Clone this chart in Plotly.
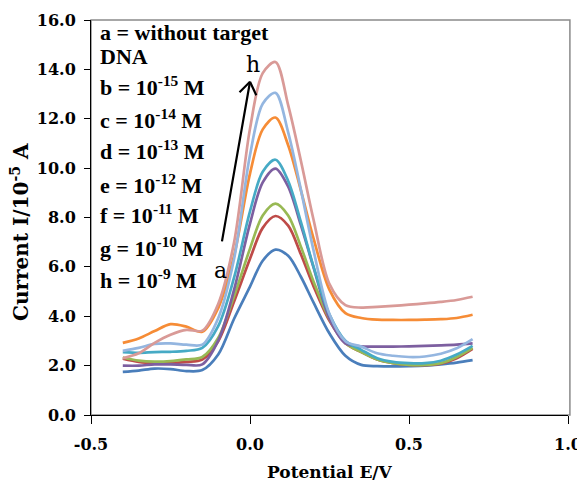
import plotly.graph_objects as go

# ---- data ----
potential = [-0.40, -0.35, -0.30, -0.25, -0.20, -0.15, -0.10, -0.05, 0.00, 0.04, 0.08, 0.12,
             0.16, 0.20, 0.25, 0.30, 0.35, 0.40, 0.45, 0.50, 0.55, 0.60, 0.65, 0.70]

curve_a = [1.75, 1.80, 1.88, 1.86, 1.78, 1.82, 2.45, 3.90, 5.20, 6.25, 6.70, 6.45,
           5.60, 4.55, 3.30, 2.40, 2.03, 1.98, 1.97, 1.98, 2.00, 2.05, 2.12, 2.22]
curve_b = [2.28, 2.15, 2.10, 2.10, 2.15, 2.25, 2.99, 4.60, 6.33, 7.58, 8.06, 7.67,
           6.51, 5.21, 3.81, 2.91, 2.55, 2.25, 2.10, 2.03, 2.02, 2.08, 2.30, 2.68]
curve_c = [2.33, 2.20, 2.16, 2.18, 2.25, 2.35, 3.12, 4.82, 6.74, 8.08, 8.56, 8.08,
           6.82, 5.40, 3.88, 2.92, 2.55, 2.25, 2.10, 2.03, 2.03, 2.10, 2.35, 2.72]
curve_d = [2.00, 2.00, 2.05, 2.05, 2.03, 2.05, 3.01, 5.08, 7.75, 9.42, 9.98, 9.25,
           7.69, 5.97, 3.90, 2.90, 2.78, 2.77, 2.77, 2.78, 2.80, 2.82, 2.85, 2.90]
curve_e = [2.55, 2.52, 2.55, 2.56, 2.60, 2.72, 3.60, 5.57, 8.25, 9.85, 10.34, 9.48,
           7.82, 6.00, 4.07, 3.01, 2.64, 2.30, 2.15, 2.10, 2.10, 2.20, 2.45, 2.80]
curve_f = [2.92, 3.10, 3.40, 3.68, 3.58, 3.37, 4.33, 6.46, 9.78, 11.57, 12.05, 10.93,
           9.10, 7.14, 5.07, 4.13, 3.93, 3.86, 3.85, 3.85, 3.86, 3.88, 3.93, 4.06]
curve_g = [2.60, 2.72, 2.88, 2.90, 2.85, 2.85, 3.92, 6.33, 10.53, 12.61, 13.05, 11.45,
           9.13, 6.66, 4.08, 2.99, 2.77, 2.50, 2.40, 2.35, 2.37, 2.48, 2.70, 3.07]
curve_h = [2.30, 2.50, 2.92, 3.25, 3.45, 3.42, 4.50, 7.00, 11.60, 13.85, 14.30, 12.55,
           10.30, 7.90, 5.30, 4.45, 4.35, 4.38, 4.42, 4.47, 4.52, 4.58, 4.66, 4.79]

series_names = ["a", "b", "c", "d", "e", "f", "g", "h"]
series_values = [curve_a, curve_b, curve_c, curve_d, curve_e, curve_f, curve_g, curve_h]
series_colors = ["#4a7ebb", "#be4b48", "#98b954", "#7d5fa0", "#46aac5",
                 "#f68c36", "#94b6e0", "#d99a97"]

legend_lines = [
    "a = without target",
    "DNA",
    "b = 10<sup>-15</sup> M",
    "c = 10<sup>-14</sup> M",
    "d = 10<sup>-13</sup> M",
    "e = 10<sup>-12</sup> M",
    "f = 10<sup>-11</sup> M",
    "g = 10<sup>-10</sup> M",
    "h = 10<sup>-9</sup> M",
]

x_tick_vals = [-0.5, 0.0, 0.5, 1.0]
x_tick_text = ["-0.5", "0.0", "0.5", "1.0"]
y_tick_vals = [0, 2, 4, 6, 8, 10, 12, 14, 16]
y_tick_text = ["0.0", "2.0", "4.0", "6.0", "8.0", "10.0", "12.0", "14.0", "16.0"]

# ---- figure ----
fig = go.Figure()
for name, vals, col in zip(series_names, series_values, series_colors):
    fig.add_trace(go.Scatter(
        x=potential, y=vals, mode="lines", name=name,
        line=dict(color=col, width=2.7, shape="spline", smoothing=0.9),
        hoverinfo="skip"))

tick_font = dict(family="DejaVu Serif", size=16, color="#000000", weight="bold")

# the page body has an 8px margin, so the figure is sized/offset to compensate
fig.update_layout(
    width=577, height=480,
    margin=dict(l=83, r=17, t=12, b=73),
    plot_bgcolor="white", paper_bgcolor="white",
    showlegend=False,
    xaxis=dict(range=[-0.5, 1.0], tickvals=x_tick_vals, ticktext=x_tick_text,
               ticks="outside", ticklen=8, tickcolor="#000000", tickwidth=1,
               ticklabelstandoff=7,
               showline=True, linecolor="#000000", linewidth=1, automargin=False,
               showgrid=False, zeroline=False, tickfont=tick_font),
    yaxis=dict(range=[0, 16], tickvals=y_tick_vals, ticktext=y_tick_text,
               ticks="outside", ticklen=6, tickcolor="#000000", tickwidth=1,
               ticklabelstandoff=5,
               showline=True, linecolor="#000000", linewidth=1, automargin=False,
               showgrid=False, zeroline=False, tickfont=tick_font),
    shapes=[dict(type="rect", xref="paper", yref="paper", x0=0, x1=1.004, y0=0, y1=1.0,
                 line=dict(color="#8a8a8a", width=1.5), layer="below")],
)

# axis titles
fig.add_annotation(text="Current I/10<sup>-5</sup> A", textangle=-90,
                   xref="paper", yref="paper", x=-0.149, y=0.463,
                   xanchor="center", yanchor="middle", showarrow=False,
                   font=dict(family="DejaVu Serif", size=20, color="#000000", weight="bold"))
fig.add_annotation(text="Potential E/V",
                   xref="paper", yref="paper", x=0.5, y=-0.144,
                   xanchor="center", yanchor="middle", showarrow=False,
                   font=dict(family="DejaVu Serif", size=17, color="#000000", weight="bold"))

# legend-like text block
legend_y = [0.969, 0.908, 0.832, 0.750, 0.670, 0.586, 0.508, 0.426, 0.345]
for txt, yy in zip(legend_lines, legend_y):
    fig.add_annotation(text=txt, xref="paper", yref="paper", x=0.015, y=yy,
                       xanchor="left", yanchor="middle", showarrow=False,
                       font=dict(family="Liberation Serif", size=22, color="#000000",
                                 weight="bold"))

# arrow from a to h (shaft + open chevron head)
fig.add_annotation(x=0.0, y=13.5, ax=-0.089, ay=6.97, xref="x", yref="y",
                   axref="x", ayref="y", text="", showarrow=True,
                   arrowhead=0, arrowwidth=2.2, arrowcolor="#000000")
fig.add_annotation(x=0.0, y=13.5, ax=-12, ay=12, xref="x", yref="y",
                   text="", showarrow=True, arrowhead=0, arrowwidth=2.2,
                   arrowcolor="#000000")
fig.add_annotation(x=0.0, y=13.5, ax=7, ay=15, xref="x", yref="y",
                   text="", showarrow=True, arrowhead=0, arrowwidth=2.2,
                   arrowcolor="#000000")
fig.add_annotation(x=0.009, y=14.2, xref="x", yref="y", text="h", showarrow=False,
                   font=dict(family="DejaVu Serif", size=22, color="#000000"))
fig.add_annotation(x=-0.094, y=5.87, xref="x", yref="y", text="a", showarrow=False,
                   font=dict(family="DejaVu Serif", size=22, color="#000000"))

fig.write_html("out.html")
